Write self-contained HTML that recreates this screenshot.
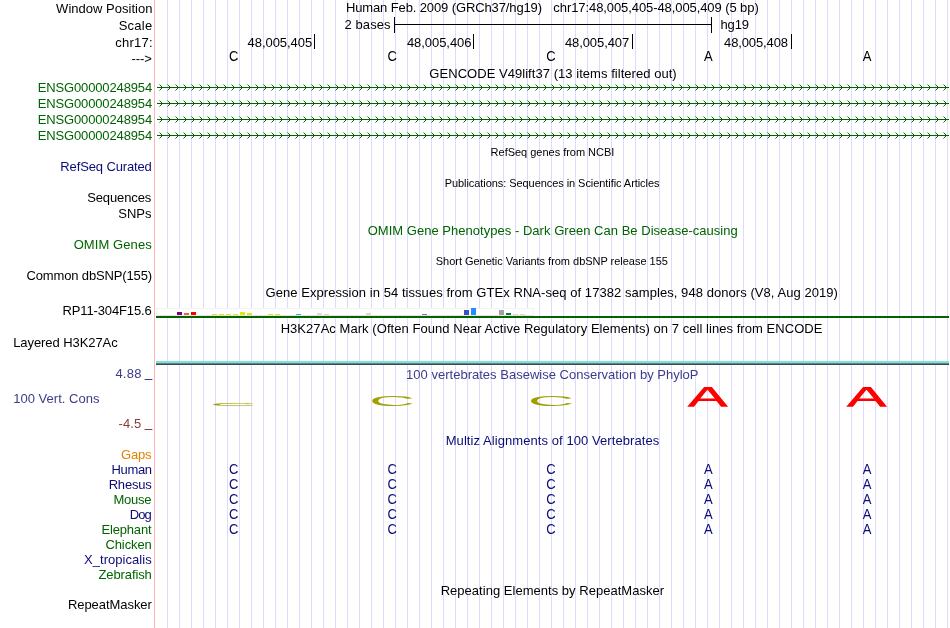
<!DOCTYPE html>
<html><head><meta charset="utf-8"><style>
html,body{margin:0;padding:0;background:#fff;width:950px;height:628px;overflow:hidden}
svg{display:block;will-change:transform}
</style></head><body>
<svg width="950" height="628" viewBox="0 0 950 628" font-family='"Liberation Sans", sans-serif'><rect x="167" y="0" width="1" height="628" fill="#dcdcff"/>
<rect x="179" y="0" width="1" height="628" fill="#dcdcff"/>
<rect x="191" y="0" width="1" height="628" fill="#dcdcff"/>
<rect x="203" y="0" width="1" height="628" fill="#dcdcff"/>
<rect x="215" y="0" width="1" height="628" fill="#dcdcff"/>
<rect x="227" y="0" width="1" height="628" fill="#dcdcff"/>
<rect x="239" y="0" width="1" height="628" fill="#dcdcff"/>
<rect x="251" y="0" width="1" height="628" fill="#dcdcff"/>
<rect x="263" y="0" width="1" height="628" fill="#dcdcff"/>
<rect x="275" y="0" width="1" height="628" fill="#dcdcff"/>
<rect x="287" y="0" width="1" height="628" fill="#dcdcff"/>
<rect x="299" y="0" width="1" height="628" fill="#dcdcff"/>
<rect x="311" y="0" width="1" height="628" fill="#dcdcff"/>
<rect x="323" y="0" width="1" height="628" fill="#dcdcff"/>
<rect x="335" y="0" width="1" height="628" fill="#dcdcff"/>
<rect x="347" y="0" width="1" height="628" fill="#dcdcff"/>
<rect x="359" y="0" width="1" height="628" fill="#dcdcff"/>
<rect x="371" y="0" width="1" height="628" fill="#dcdcff"/>
<rect x="383" y="0" width="1" height="628" fill="#dcdcff"/>
<rect x="395" y="0" width="1" height="628" fill="#dcdcff"/>
<rect x="407" y="0" width="1" height="628" fill="#dcdcff"/>
<rect x="419" y="0" width="1" height="628" fill="#dcdcff"/>
<rect x="431" y="0" width="1" height="628" fill="#dcdcff"/>
<rect x="443" y="0" width="1" height="628" fill="#dcdcff"/>
<rect x="455" y="0" width="1" height="628" fill="#dcdcff"/>
<rect x="467" y="0" width="1" height="628" fill="#dcdcff"/>
<rect x="479" y="0" width="1" height="628" fill="#dcdcff"/>
<rect x="491" y="0" width="1" height="628" fill="#dcdcff"/>
<rect x="503" y="0" width="1" height="628" fill="#dcdcff"/>
<rect x="515" y="0" width="1" height="628" fill="#dcdcff"/>
<rect x="527" y="0" width="1" height="628" fill="#dcdcff"/>
<rect x="539" y="0" width="1" height="628" fill="#dcdcff"/>
<rect x="551" y="0" width="1" height="628" fill="#dcdcff"/>
<rect x="563" y="0" width="1" height="628" fill="#dcdcff"/>
<rect x="575" y="0" width="1" height="628" fill="#dcdcff"/>
<rect x="587" y="0" width="1" height="628" fill="#dcdcff"/>
<rect x="599" y="0" width="1" height="628" fill="#dcdcff"/>
<rect x="611" y="0" width="1" height="628" fill="#dcdcff"/>
<rect x="623" y="0" width="1" height="628" fill="#dcdcff"/>
<rect x="635" y="0" width="1" height="628" fill="#dcdcff"/>
<rect x="647" y="0" width="1" height="628" fill="#dcdcff"/>
<rect x="659" y="0" width="1" height="628" fill="#dcdcff"/>
<rect x="671" y="0" width="1" height="628" fill="#dcdcff"/>
<rect x="683" y="0" width="1" height="628" fill="#dcdcff"/>
<rect x="695" y="0" width="1" height="628" fill="#dcdcff"/>
<rect x="707" y="0" width="1" height="628" fill="#dcdcff"/>
<rect x="719" y="0" width="1" height="628" fill="#dcdcff"/>
<rect x="731" y="0" width="1" height="628" fill="#dcdcff"/>
<rect x="743" y="0" width="1" height="628" fill="#dcdcff"/>
<rect x="755" y="0" width="1" height="628" fill="#dcdcff"/>
<rect x="767" y="0" width="1" height="628" fill="#dcdcff"/>
<rect x="779" y="0" width="1" height="628" fill="#dcdcff"/>
<rect x="791" y="0" width="1" height="628" fill="#dcdcff"/>
<rect x="803" y="0" width="1" height="628" fill="#dcdcff"/>
<rect x="815" y="0" width="1" height="628" fill="#dcdcff"/>
<rect x="827" y="0" width="1" height="628" fill="#dcdcff"/>
<rect x="839" y="0" width="1" height="628" fill="#dcdcff"/>
<rect x="851" y="0" width="1" height="628" fill="#dcdcff"/>
<rect x="863" y="0" width="1" height="628" fill="#dcdcff"/>
<rect x="875" y="0" width="1" height="628" fill="#dcdcff"/>
<rect x="887" y="0" width="1" height="628" fill="#dcdcff"/>
<rect x="899" y="0" width="1" height="628" fill="#dcdcff"/>
<rect x="911" y="0" width="1" height="628" fill="#dcdcff"/>
<rect x="923" y="0" width="1" height="628" fill="#dcdcff"/>
<rect x="935" y="0" width="1" height="628" fill="#dcdcff"/>
<rect x="947" y="0" width="1" height="628" fill="#dcdcff"/>
<rect x="154" y="0" width="1" height="628" fill="#ffb4b4"/>
<text transform="translate(56.10,13) scale(1,1.0)" font-size="13" fill="#000" id="win" textLength="96.30" lengthAdjust="spacing">Window Position</text>
<text transform="translate(118.65,30) scale(1,1.0)" font-size="13" fill="#000" id="scale" textLength="33.61" lengthAdjust="spacing">Scale</text>
<text transform="translate(115.37,47) scale(1,1.0)" font-size="13" fill="#000" id="chr" textLength="37.25" lengthAdjust="spacing">chr17:</text>
<text transform="translate(131.46,63) scale(1,1.0)" font-size="13" fill="#000" id="arrow" textLength="20.32" lengthAdjust="spacing">---&gt;</text>
<text transform="translate(37.63,92) scale(1,1.0)" font-size="13" fill="#006400" id="ensg0" textLength="114.57" lengthAdjust="spacing">ENSG00000248954</text>
<text transform="translate(37.63,108) scale(1,1.0)" font-size="13" fill="#006400" id="ensg1" textLength="114.57" lengthAdjust="spacing">ENSG00000248954</text>
<text transform="translate(37.63,124) scale(1,1.0)" font-size="13" fill="#006400" id="ensg2" textLength="114.57" lengthAdjust="spacing">ENSG00000248954</text>
<text transform="translate(37.63,140) scale(1,1.0)" font-size="13" fill="#006400" id="ensg3" textLength="114.57" lengthAdjust="spacing">ENSG00000248954</text>
<text transform="translate(60.37,171) scale(1,1.0)" font-size="13" fill="#0c0c78" id="refseq" textLength="91.46" lengthAdjust="spacing">RefSeq Curated</text>
<text transform="translate(87.14,202) scale(1,1.0)" font-size="13" fill="#000" id="seqs" textLength="64.15" lengthAdjust="spacing">Sequences</text>
<text transform="translate(118.34,218) scale(1,1.0)" font-size="13" fill="#000" id="snps" textLength="33.15" lengthAdjust="spacing">SNPs</text>
<text transform="translate(73.63,249) scale(1,1.0)" font-size="13" fill="#006400" id="omimL" textLength="78.13" lengthAdjust="spacing">OMIM Genes</text>
<text transform="translate(26.48,280) scale(1,1.0)" font-size="13" fill="#000" id="dbsnp" textLength="125.62" lengthAdjust="spacing">Common dbSNP(155)</text>
<text transform="translate(62.46,315) scale(1,1.0)" font-size="13" fill="#000" id="rp11" textLength="89.29" lengthAdjust="spacing">RP11-304F15.6</text>
<text transform="translate(13.17,347) scale(1,1.0)" font-size="13" fill="#000" id="layered" textLength="104.56" lengthAdjust="spacing">Layered H3K27Ac</text>
<text transform="translate(115.41,378) scale(1,1.0)" font-size="13" fill="#3c3c8c" id="c488" textLength="25.96" lengthAdjust="spacing">4.88</text>
<text transform="translate(13.16,403) scale(1,1.0)" font-size="13" fill="#3c3c8c" id="vert" textLength="86.37" lengthAdjust="spacing">100 Vert. Cons</text>
<text transform="translate(118.61,428) scale(1,1.0)" font-size="13" fill="#8c3c3c" id="c45" textLength="22.58" lengthAdjust="spacing">-4.5</text>
<text transform="translate(120.90,459) scale(1,1.0)" font-size="13" fill="#e18200" id="gaps" textLength="30.72" lengthAdjust="spacing">Gaps</text>
<text transform="translate(111.51,474) scale(1,1.0)" font-size="13" fill="#0c0c78" id="sp0" textLength="40.57" lengthAdjust="spacing">Human</text>
<text transform="translate(108.65,489) scale(1,1.0)" font-size="13" fill="#0c0c78" id="sp1" textLength="43.15" lengthAdjust="spacing">Rhesus</text>
<text transform="translate(113.44,504) scale(1,1.0)" font-size="13" fill="#006400" id="sp2" textLength="38.14" lengthAdjust="spacing">Mouse</text>
<text transform="translate(129.65,519) scale(1,1.0)" font-size="13" fill="#0c0c78" id="sp3" textLength="22.09" lengthAdjust="spacing">Dog</text>
<text transform="translate(101.44,534) scale(1,1.0)" font-size="13" fill="#006400" id="sp4" textLength="50.15" lengthAdjust="spacing">Elephant</text>
<text transform="translate(105.43,549) scale(1,1.0)" font-size="13" fill="#006400" id="sp5" textLength="46.38" lengthAdjust="spacing">Chicken</text>
<text transform="translate(84.11,564) scale(1,1.0)" font-size="13" fill="#0c0c78" id="sp6" textLength="67.56" lengthAdjust="spacing">X_tropicalis</text>
<text transform="translate(98.43,579) scale(1,1.0)" font-size="13" fill="#006400" id="sp7" textLength="53.40" lengthAdjust="spacing">Zebrafish</text>
<text transform="translate(67.89,609) scale(1,1.0)" font-size="13" fill="#000" id="rmL" textLength="83.98" lengthAdjust="spacing">RepeatMasker</text>
<text transform="translate(345.89,12) scale(1,1.0)" font-size="13" fill="#000" id="hfeb" textLength="196.19" lengthAdjust="spacing">Human Feb. 2009 (GRCh37/hg19)</text>
<text transform="translate(553.37,12) scale(1,1.0)" font-size="13" fill="#000" id="chrpos" textLength="205.39" lengthAdjust="spacing">chr17:48,005,405-48,005,409 (5 bp)</text>
<text transform="translate(344.62,29) scale(1,1.0)" font-size="13" fill="#000" id="bases2" textLength="45.90" lengthAdjust="spacing">2 bases</text>
<text transform="translate(720.42,29) scale(1,1.0)" font-size="13" fill="#000" id="hg19" textLength="28.61" lengthAdjust="spacing">hg19</text>
<text transform="translate(247.59,47) scale(1,1.0)" font-size="13" fill="#000" id="p405" textLength="64.62" lengthAdjust="spacing">48,005,405</text>
<text transform="translate(406.92,47) scale(1,1.0)" font-size="13" fill="#000" id="p406" textLength="64.55" lengthAdjust="spacing">48,005,406</text>
<text transform="translate(564.92,47) scale(1,1.0)" font-size="13" fill="#000" id="p407" textLength="64.30" lengthAdjust="spacing">48,005,407</text>
<text transform="translate(724.02,47) scale(1,1.0)" font-size="13" fill="#000" id="p408" textLength="64.05" lengthAdjust="spacing">48,005,408</text>
<text transform="translate(233.80,61) scale(1,1.07)" font-size="13" fill="#000" id="rb0" text-anchor="middle">C</text>
<text transform="translate(392.30,61) scale(1,1.07)" font-size="13" fill="#000" id="rb1" text-anchor="middle">C</text>
<text transform="translate(550.90,61) scale(1,1.07)" font-size="13" fill="#000" id="rb2" text-anchor="middle">C</text>
<text transform="translate(708.30,61) scale(1,1.07)" font-size="13" fill="#000" id="rb3" text-anchor="middle">A</text>
<text transform="translate(867.20,61) scale(1,1.07)" font-size="13" fill="#000" id="rb4" text-anchor="middle">A</text>
<text transform="translate(429.35,78) scale(1,1.0)" font-size="13" fill="#000" id="gencode" textLength="247.35" lengthAdjust="spacing">GENCODE V49lift37 (13 items filtered out)</text>
<text transform="translate(490.62,156) scale(1,1.0)" font-size="11" fill="#000" id="refgenes" textLength="123.75" lengthAdjust="spacing">RefSeq genes from NCBI</text>
<text transform="translate(444.71,187) scale(1,1.0)" font-size="11" fill="#000" id="pubs" textLength="214.77" lengthAdjust="spacing">Publications: Sequences in Scientific Articles</text>
<text transform="translate(367.63,235) scale(1,1.0)" font-size="13" fill="#006400" id="omimT" textLength="370.11" lengthAdjust="spacing">OMIM Gene Phenotypes - Dark Green Can Be Disease-causing</text>
<text transform="translate(435.76,265) scale(1,1.0)" font-size="11" fill="#000" id="snpT" textLength="232.12" lengthAdjust="spacing">Short Genetic Variants from dbSNP release 155</text>
<text transform="translate(265.54,297) scale(1,1.0)" font-size="13" fill="#000" id="gtex" textLength="572.33" lengthAdjust="spacing">Gene Expression in 54 tissues from GTEx RNA-seq of 17382 samples, 948 donors (V8, Aug 2019)</text>
<text transform="translate(280.66,333) scale(1,1.0)" font-size="13" fill="#000" id="h3k" textLength="541.78" lengthAdjust="spacing">H3K27Ac Mark (Often Found Near Active Regulatory Elements) on 7 cell lines from ENCODE</text>
<text transform="translate(406.11,379) scale(1,1.0)" font-size="13" fill="#3c3c8c" id="phylo" textLength="292.40" lengthAdjust="spacing">100 vertebrates Basewise Conservation by PhyloP</text>
<text transform="translate(445.71,445) scale(1,1.0)" font-size="13" fill="#0c0c78" id="multiz" textLength="213.54" lengthAdjust="spacing">Multiz Alignments of 100 Vertebrates</text>
<text transform="translate(440.66,595) scale(1,1.0)" font-size="13" fill="#000" id="rmT" textLength="223.40" lengthAdjust="spacing">Repeating Elements by RepeatMasker</text>
<rect x="144.6" y="379" width="7.8" height="1" fill="#3c3c8c"/>
<rect x="144.6" y="429" width="7.8" height="1" fill="#8c3c3c"/>
<rect x="394" y="17" width="1" height="16" fill="#000"/>
<rect x="711" y="17" width="1" height="16" fill="#000"/>
<rect x="394" y="24" width="318" height="1" fill="#000"/>
<rect x="314" y="34" width="1" height="15" fill="#000"/>
<rect x="473" y="34" width="1" height="15" fill="#000"/>
<rect x="632" y="34" width="1" height="15" fill="#000"/>
<rect x="791" y="34" width="1" height="15" fill="#000"/>
<rect x="157" y="87" width="792" height="1" fill="#006400"/>
<path d="M161,86h1v3h-1zM160,85h1v1h-1zM160,89h1v1h-1zM169,86h1v3h-1zM168,85h1v1h-1zM168,89h1v1h-1zM177,86h1v3h-1zM176,85h1v1h-1zM176,89h1v1h-1zM185,86h1v3h-1zM184,85h1v1h-1zM184,89h1v1h-1zM193,86h1v3h-1zM192,85h1v1h-1zM192,89h1v1h-1zM201,86h1v3h-1zM200,85h1v1h-1zM200,89h1v1h-1zM209,86h1v3h-1zM208,85h1v1h-1zM208,89h1v1h-1zM217,86h1v3h-1zM216,85h1v1h-1zM216,89h1v1h-1zM225,86h1v3h-1zM224,85h1v1h-1zM224,89h1v1h-1zM233,86h1v3h-1zM232,85h1v1h-1zM232,89h1v1h-1zM241,86h1v3h-1zM240,85h1v1h-1zM240,89h1v1h-1zM249,86h1v3h-1zM248,85h1v1h-1zM248,89h1v1h-1zM257,86h1v3h-1zM256,85h1v1h-1zM256,89h1v1h-1zM265,86h1v3h-1zM264,85h1v1h-1zM264,89h1v1h-1zM273,86h1v3h-1zM272,85h1v1h-1zM272,89h1v1h-1zM281,86h1v3h-1zM280,85h1v1h-1zM280,89h1v1h-1zM289,86h1v3h-1zM288,85h1v1h-1zM288,89h1v1h-1zM297,86h1v3h-1zM296,85h1v1h-1zM296,89h1v1h-1zM305,86h1v3h-1zM304,85h1v1h-1zM304,89h1v1h-1zM313,86h1v3h-1zM312,85h1v1h-1zM312,89h1v1h-1zM321,86h1v3h-1zM320,85h1v1h-1zM320,89h1v1h-1zM329,86h1v3h-1zM328,85h1v1h-1zM328,89h1v1h-1zM337,86h1v3h-1zM336,85h1v1h-1zM336,89h1v1h-1zM345,86h1v3h-1zM344,85h1v1h-1zM344,89h1v1h-1zM353,86h1v3h-1zM352,85h1v1h-1zM352,89h1v1h-1zM361,86h1v3h-1zM360,85h1v1h-1zM360,89h1v1h-1zM369,86h1v3h-1zM368,85h1v1h-1zM368,89h1v1h-1zM377,86h1v3h-1zM376,85h1v1h-1zM376,89h1v1h-1zM385,86h1v3h-1zM384,85h1v1h-1zM384,89h1v1h-1zM393,86h1v3h-1zM392,85h1v1h-1zM392,89h1v1h-1zM401,86h1v3h-1zM400,85h1v1h-1zM400,89h1v1h-1zM409,86h1v3h-1zM408,85h1v1h-1zM408,89h1v1h-1zM417,86h1v3h-1zM416,85h1v1h-1zM416,89h1v1h-1zM425,86h1v3h-1zM424,85h1v1h-1zM424,89h1v1h-1zM433,86h1v3h-1zM432,85h1v1h-1zM432,89h1v1h-1zM441,86h1v3h-1zM440,85h1v1h-1zM440,89h1v1h-1zM449,86h1v3h-1zM448,85h1v1h-1zM448,89h1v1h-1zM457,86h1v3h-1zM456,85h1v1h-1zM456,89h1v1h-1zM465,86h1v3h-1zM464,85h1v1h-1zM464,89h1v1h-1zM473,86h1v3h-1zM472,85h1v1h-1zM472,89h1v1h-1zM481,86h1v3h-1zM480,85h1v1h-1zM480,89h1v1h-1zM489,86h1v3h-1zM488,85h1v1h-1zM488,89h1v1h-1zM497,86h1v3h-1zM496,85h1v1h-1zM496,89h1v1h-1zM505,86h1v3h-1zM504,85h1v1h-1zM504,89h1v1h-1zM513,86h1v3h-1zM512,85h1v1h-1zM512,89h1v1h-1zM521,86h1v3h-1zM520,85h1v1h-1zM520,89h1v1h-1zM529,86h1v3h-1zM528,85h1v1h-1zM528,89h1v1h-1zM537,86h1v3h-1zM536,85h1v1h-1zM536,89h1v1h-1zM545,86h1v3h-1zM544,85h1v1h-1zM544,89h1v1h-1zM553,86h1v3h-1zM552,85h1v1h-1zM552,89h1v1h-1zM561,86h1v3h-1zM560,85h1v1h-1zM560,89h1v1h-1zM569,86h1v3h-1zM568,85h1v1h-1zM568,89h1v1h-1zM577,86h1v3h-1zM576,85h1v1h-1zM576,89h1v1h-1zM585,86h1v3h-1zM584,85h1v1h-1zM584,89h1v1h-1zM593,86h1v3h-1zM592,85h1v1h-1zM592,89h1v1h-1zM601,86h1v3h-1zM600,85h1v1h-1zM600,89h1v1h-1zM609,86h1v3h-1zM608,85h1v1h-1zM608,89h1v1h-1zM617,86h1v3h-1zM616,85h1v1h-1zM616,89h1v1h-1zM625,86h1v3h-1zM624,85h1v1h-1zM624,89h1v1h-1zM633,86h1v3h-1zM632,85h1v1h-1zM632,89h1v1h-1zM641,86h1v3h-1zM640,85h1v1h-1zM640,89h1v1h-1zM649,86h1v3h-1zM648,85h1v1h-1zM648,89h1v1h-1zM657,86h1v3h-1zM656,85h1v1h-1zM656,89h1v1h-1zM665,86h1v3h-1zM664,85h1v1h-1zM664,89h1v1h-1zM673,86h1v3h-1zM672,85h1v1h-1zM672,89h1v1h-1zM681,86h1v3h-1zM680,85h1v1h-1zM680,89h1v1h-1zM689,86h1v3h-1zM688,85h1v1h-1zM688,89h1v1h-1zM697,86h1v3h-1zM696,85h1v1h-1zM696,89h1v1h-1zM705,86h1v3h-1zM704,85h1v1h-1zM704,89h1v1h-1zM713,86h1v3h-1zM712,85h1v1h-1zM712,89h1v1h-1zM721,86h1v3h-1zM720,85h1v1h-1zM720,89h1v1h-1zM729,86h1v3h-1zM728,85h1v1h-1zM728,89h1v1h-1zM737,86h1v3h-1zM736,85h1v1h-1zM736,89h1v1h-1zM745,86h1v3h-1zM744,85h1v1h-1zM744,89h1v1h-1zM753,86h1v3h-1zM752,85h1v1h-1zM752,89h1v1h-1zM761,86h1v3h-1zM760,85h1v1h-1zM760,89h1v1h-1zM769,86h1v3h-1zM768,85h1v1h-1zM768,89h1v1h-1zM777,86h1v3h-1zM776,85h1v1h-1zM776,89h1v1h-1zM785,86h1v3h-1zM784,85h1v1h-1zM784,89h1v1h-1zM793,86h1v3h-1zM792,85h1v1h-1zM792,89h1v1h-1zM801,86h1v3h-1zM800,85h1v1h-1zM800,89h1v1h-1zM809,86h1v3h-1zM808,85h1v1h-1zM808,89h1v1h-1zM817,86h1v3h-1zM816,85h1v1h-1zM816,89h1v1h-1zM825,86h1v3h-1zM824,85h1v1h-1zM824,89h1v1h-1zM833,86h1v3h-1zM832,85h1v1h-1zM832,89h1v1h-1zM841,86h1v3h-1zM840,85h1v1h-1zM840,89h1v1h-1zM849,86h1v3h-1zM848,85h1v1h-1zM848,89h1v1h-1zM857,86h1v3h-1zM856,85h1v1h-1zM856,89h1v1h-1zM865,86h1v3h-1zM864,85h1v1h-1zM864,89h1v1h-1zM873,86h1v3h-1zM872,85h1v1h-1zM872,89h1v1h-1zM881,86h1v3h-1zM880,85h1v1h-1zM880,89h1v1h-1zM889,86h1v3h-1zM888,85h1v1h-1zM888,89h1v1h-1zM897,86h1v3h-1zM896,85h1v1h-1zM896,89h1v1h-1zM905,86h1v3h-1zM904,85h1v1h-1zM904,89h1v1h-1zM913,86h1v3h-1zM912,85h1v1h-1zM912,89h1v1h-1zM921,86h1v3h-1zM920,85h1v1h-1zM920,89h1v1h-1zM929,86h1v3h-1zM928,85h1v1h-1zM928,89h1v1h-1zM937,86h1v3h-1zM936,85h1v1h-1zM936,89h1v1h-1zM945,86h1v3h-1zM944,85h1v1h-1zM944,89h1v1h-1z" fill="#006400"/>
<path d="M159,84h1v1h-1zM159,90h1v1h-1zM167,84h1v1h-1zM167,90h1v1h-1zM175,84h1v1h-1zM175,90h1v1h-1zM183,84h1v1h-1zM183,90h1v1h-1zM191,84h1v1h-1zM191,90h1v1h-1zM199,84h1v1h-1zM199,90h1v1h-1zM207,84h1v1h-1zM207,90h1v1h-1zM215,84h1v1h-1zM215,90h1v1h-1zM223,84h1v1h-1zM223,90h1v1h-1zM231,84h1v1h-1zM231,90h1v1h-1zM239,84h1v1h-1zM239,90h1v1h-1zM247,84h1v1h-1zM247,90h1v1h-1zM255,84h1v1h-1zM255,90h1v1h-1zM263,84h1v1h-1zM263,90h1v1h-1zM271,84h1v1h-1zM271,90h1v1h-1zM279,84h1v1h-1zM279,90h1v1h-1zM287,84h1v1h-1zM287,90h1v1h-1zM295,84h1v1h-1zM295,90h1v1h-1zM303,84h1v1h-1zM303,90h1v1h-1zM311,84h1v1h-1zM311,90h1v1h-1zM319,84h1v1h-1zM319,90h1v1h-1zM327,84h1v1h-1zM327,90h1v1h-1zM335,84h1v1h-1zM335,90h1v1h-1zM343,84h1v1h-1zM343,90h1v1h-1zM351,84h1v1h-1zM351,90h1v1h-1zM359,84h1v1h-1zM359,90h1v1h-1zM367,84h1v1h-1zM367,90h1v1h-1zM375,84h1v1h-1zM375,90h1v1h-1zM383,84h1v1h-1zM383,90h1v1h-1zM391,84h1v1h-1zM391,90h1v1h-1zM399,84h1v1h-1zM399,90h1v1h-1zM407,84h1v1h-1zM407,90h1v1h-1zM415,84h1v1h-1zM415,90h1v1h-1zM423,84h1v1h-1zM423,90h1v1h-1zM431,84h1v1h-1zM431,90h1v1h-1zM439,84h1v1h-1zM439,90h1v1h-1zM447,84h1v1h-1zM447,90h1v1h-1zM455,84h1v1h-1zM455,90h1v1h-1zM463,84h1v1h-1zM463,90h1v1h-1zM471,84h1v1h-1zM471,90h1v1h-1zM479,84h1v1h-1zM479,90h1v1h-1zM487,84h1v1h-1zM487,90h1v1h-1zM495,84h1v1h-1zM495,90h1v1h-1zM503,84h1v1h-1zM503,90h1v1h-1zM511,84h1v1h-1zM511,90h1v1h-1zM519,84h1v1h-1zM519,90h1v1h-1zM527,84h1v1h-1zM527,90h1v1h-1zM535,84h1v1h-1zM535,90h1v1h-1zM543,84h1v1h-1zM543,90h1v1h-1zM551,84h1v1h-1zM551,90h1v1h-1zM559,84h1v1h-1zM559,90h1v1h-1zM567,84h1v1h-1zM567,90h1v1h-1zM575,84h1v1h-1zM575,90h1v1h-1zM583,84h1v1h-1zM583,90h1v1h-1zM591,84h1v1h-1zM591,90h1v1h-1zM599,84h1v1h-1zM599,90h1v1h-1zM607,84h1v1h-1zM607,90h1v1h-1zM615,84h1v1h-1zM615,90h1v1h-1zM623,84h1v1h-1zM623,90h1v1h-1zM631,84h1v1h-1zM631,90h1v1h-1zM639,84h1v1h-1zM639,90h1v1h-1zM647,84h1v1h-1zM647,90h1v1h-1zM655,84h1v1h-1zM655,90h1v1h-1zM663,84h1v1h-1zM663,90h1v1h-1zM671,84h1v1h-1zM671,90h1v1h-1zM679,84h1v1h-1zM679,90h1v1h-1zM687,84h1v1h-1zM687,90h1v1h-1zM695,84h1v1h-1zM695,90h1v1h-1zM703,84h1v1h-1zM703,90h1v1h-1zM711,84h1v1h-1zM711,90h1v1h-1zM719,84h1v1h-1zM719,90h1v1h-1zM727,84h1v1h-1zM727,90h1v1h-1zM735,84h1v1h-1zM735,90h1v1h-1zM743,84h1v1h-1zM743,90h1v1h-1zM751,84h1v1h-1zM751,90h1v1h-1zM759,84h1v1h-1zM759,90h1v1h-1zM767,84h1v1h-1zM767,90h1v1h-1zM775,84h1v1h-1zM775,90h1v1h-1zM783,84h1v1h-1zM783,90h1v1h-1zM791,84h1v1h-1zM791,90h1v1h-1zM799,84h1v1h-1zM799,90h1v1h-1zM807,84h1v1h-1zM807,90h1v1h-1zM815,84h1v1h-1zM815,90h1v1h-1zM823,84h1v1h-1zM823,90h1v1h-1zM831,84h1v1h-1zM831,90h1v1h-1zM839,84h1v1h-1zM839,90h1v1h-1zM847,84h1v1h-1zM847,90h1v1h-1zM855,84h1v1h-1zM855,90h1v1h-1zM863,84h1v1h-1zM863,90h1v1h-1zM871,84h1v1h-1zM871,90h1v1h-1zM879,84h1v1h-1zM879,90h1v1h-1zM887,84h1v1h-1zM887,90h1v1h-1zM895,84h1v1h-1zM895,90h1v1h-1zM903,84h1v1h-1zM903,90h1v1h-1zM911,84h1v1h-1zM911,90h1v1h-1zM919,84h1v1h-1zM919,90h1v1h-1zM927,84h1v1h-1zM927,90h1v1h-1zM935,84h1v1h-1zM935,90h1v1h-1zM943,84h1v1h-1zM943,90h1v1h-1z" fill="#006400" fill-opacity="0.45"/>
<rect x="157" y="103" width="792" height="1" fill="#006400"/>
<path d="M161,102h1v3h-1zM160,101h1v1h-1zM160,105h1v1h-1zM169,102h1v3h-1zM168,101h1v1h-1zM168,105h1v1h-1zM177,102h1v3h-1zM176,101h1v1h-1zM176,105h1v1h-1zM185,102h1v3h-1zM184,101h1v1h-1zM184,105h1v1h-1zM193,102h1v3h-1zM192,101h1v1h-1zM192,105h1v1h-1zM201,102h1v3h-1zM200,101h1v1h-1zM200,105h1v1h-1zM209,102h1v3h-1zM208,101h1v1h-1zM208,105h1v1h-1zM217,102h1v3h-1zM216,101h1v1h-1zM216,105h1v1h-1zM225,102h1v3h-1zM224,101h1v1h-1zM224,105h1v1h-1zM233,102h1v3h-1zM232,101h1v1h-1zM232,105h1v1h-1zM241,102h1v3h-1zM240,101h1v1h-1zM240,105h1v1h-1zM249,102h1v3h-1zM248,101h1v1h-1zM248,105h1v1h-1zM257,102h1v3h-1zM256,101h1v1h-1zM256,105h1v1h-1zM265,102h1v3h-1zM264,101h1v1h-1zM264,105h1v1h-1zM273,102h1v3h-1zM272,101h1v1h-1zM272,105h1v1h-1zM281,102h1v3h-1zM280,101h1v1h-1zM280,105h1v1h-1zM289,102h1v3h-1zM288,101h1v1h-1zM288,105h1v1h-1zM297,102h1v3h-1zM296,101h1v1h-1zM296,105h1v1h-1zM305,102h1v3h-1zM304,101h1v1h-1zM304,105h1v1h-1zM313,102h1v3h-1zM312,101h1v1h-1zM312,105h1v1h-1zM321,102h1v3h-1zM320,101h1v1h-1zM320,105h1v1h-1zM329,102h1v3h-1zM328,101h1v1h-1zM328,105h1v1h-1zM337,102h1v3h-1zM336,101h1v1h-1zM336,105h1v1h-1zM345,102h1v3h-1zM344,101h1v1h-1zM344,105h1v1h-1zM353,102h1v3h-1zM352,101h1v1h-1zM352,105h1v1h-1zM361,102h1v3h-1zM360,101h1v1h-1zM360,105h1v1h-1zM369,102h1v3h-1zM368,101h1v1h-1zM368,105h1v1h-1zM377,102h1v3h-1zM376,101h1v1h-1zM376,105h1v1h-1zM385,102h1v3h-1zM384,101h1v1h-1zM384,105h1v1h-1zM393,102h1v3h-1zM392,101h1v1h-1zM392,105h1v1h-1zM401,102h1v3h-1zM400,101h1v1h-1zM400,105h1v1h-1zM409,102h1v3h-1zM408,101h1v1h-1zM408,105h1v1h-1zM417,102h1v3h-1zM416,101h1v1h-1zM416,105h1v1h-1zM425,102h1v3h-1zM424,101h1v1h-1zM424,105h1v1h-1zM433,102h1v3h-1zM432,101h1v1h-1zM432,105h1v1h-1zM441,102h1v3h-1zM440,101h1v1h-1zM440,105h1v1h-1zM449,102h1v3h-1zM448,101h1v1h-1zM448,105h1v1h-1zM457,102h1v3h-1zM456,101h1v1h-1zM456,105h1v1h-1zM465,102h1v3h-1zM464,101h1v1h-1zM464,105h1v1h-1zM473,102h1v3h-1zM472,101h1v1h-1zM472,105h1v1h-1zM481,102h1v3h-1zM480,101h1v1h-1zM480,105h1v1h-1zM489,102h1v3h-1zM488,101h1v1h-1zM488,105h1v1h-1zM497,102h1v3h-1zM496,101h1v1h-1zM496,105h1v1h-1zM505,102h1v3h-1zM504,101h1v1h-1zM504,105h1v1h-1zM513,102h1v3h-1zM512,101h1v1h-1zM512,105h1v1h-1zM521,102h1v3h-1zM520,101h1v1h-1zM520,105h1v1h-1zM529,102h1v3h-1zM528,101h1v1h-1zM528,105h1v1h-1zM537,102h1v3h-1zM536,101h1v1h-1zM536,105h1v1h-1zM545,102h1v3h-1zM544,101h1v1h-1zM544,105h1v1h-1zM553,102h1v3h-1zM552,101h1v1h-1zM552,105h1v1h-1zM561,102h1v3h-1zM560,101h1v1h-1zM560,105h1v1h-1zM569,102h1v3h-1zM568,101h1v1h-1zM568,105h1v1h-1zM577,102h1v3h-1zM576,101h1v1h-1zM576,105h1v1h-1zM585,102h1v3h-1zM584,101h1v1h-1zM584,105h1v1h-1zM593,102h1v3h-1zM592,101h1v1h-1zM592,105h1v1h-1zM601,102h1v3h-1zM600,101h1v1h-1zM600,105h1v1h-1zM609,102h1v3h-1zM608,101h1v1h-1zM608,105h1v1h-1zM617,102h1v3h-1zM616,101h1v1h-1zM616,105h1v1h-1zM625,102h1v3h-1zM624,101h1v1h-1zM624,105h1v1h-1zM633,102h1v3h-1zM632,101h1v1h-1zM632,105h1v1h-1zM641,102h1v3h-1zM640,101h1v1h-1zM640,105h1v1h-1zM649,102h1v3h-1zM648,101h1v1h-1zM648,105h1v1h-1zM657,102h1v3h-1zM656,101h1v1h-1zM656,105h1v1h-1zM665,102h1v3h-1zM664,101h1v1h-1zM664,105h1v1h-1zM673,102h1v3h-1zM672,101h1v1h-1zM672,105h1v1h-1zM681,102h1v3h-1zM680,101h1v1h-1zM680,105h1v1h-1zM689,102h1v3h-1zM688,101h1v1h-1zM688,105h1v1h-1zM697,102h1v3h-1zM696,101h1v1h-1zM696,105h1v1h-1zM705,102h1v3h-1zM704,101h1v1h-1zM704,105h1v1h-1zM713,102h1v3h-1zM712,101h1v1h-1zM712,105h1v1h-1zM721,102h1v3h-1zM720,101h1v1h-1zM720,105h1v1h-1zM729,102h1v3h-1zM728,101h1v1h-1zM728,105h1v1h-1zM737,102h1v3h-1zM736,101h1v1h-1zM736,105h1v1h-1zM745,102h1v3h-1zM744,101h1v1h-1zM744,105h1v1h-1zM753,102h1v3h-1zM752,101h1v1h-1zM752,105h1v1h-1zM761,102h1v3h-1zM760,101h1v1h-1zM760,105h1v1h-1zM769,102h1v3h-1zM768,101h1v1h-1zM768,105h1v1h-1zM777,102h1v3h-1zM776,101h1v1h-1zM776,105h1v1h-1zM785,102h1v3h-1zM784,101h1v1h-1zM784,105h1v1h-1zM793,102h1v3h-1zM792,101h1v1h-1zM792,105h1v1h-1zM801,102h1v3h-1zM800,101h1v1h-1zM800,105h1v1h-1zM809,102h1v3h-1zM808,101h1v1h-1zM808,105h1v1h-1zM817,102h1v3h-1zM816,101h1v1h-1zM816,105h1v1h-1zM825,102h1v3h-1zM824,101h1v1h-1zM824,105h1v1h-1zM833,102h1v3h-1zM832,101h1v1h-1zM832,105h1v1h-1zM841,102h1v3h-1zM840,101h1v1h-1zM840,105h1v1h-1zM849,102h1v3h-1zM848,101h1v1h-1zM848,105h1v1h-1zM857,102h1v3h-1zM856,101h1v1h-1zM856,105h1v1h-1zM865,102h1v3h-1zM864,101h1v1h-1zM864,105h1v1h-1zM873,102h1v3h-1zM872,101h1v1h-1zM872,105h1v1h-1zM881,102h1v3h-1zM880,101h1v1h-1zM880,105h1v1h-1zM889,102h1v3h-1zM888,101h1v1h-1zM888,105h1v1h-1zM897,102h1v3h-1zM896,101h1v1h-1zM896,105h1v1h-1zM905,102h1v3h-1zM904,101h1v1h-1zM904,105h1v1h-1zM913,102h1v3h-1zM912,101h1v1h-1zM912,105h1v1h-1zM921,102h1v3h-1zM920,101h1v1h-1zM920,105h1v1h-1zM929,102h1v3h-1zM928,101h1v1h-1zM928,105h1v1h-1zM937,102h1v3h-1zM936,101h1v1h-1zM936,105h1v1h-1zM945,102h1v3h-1zM944,101h1v1h-1zM944,105h1v1h-1z" fill="#006400"/>
<path d="M159,100h1v1h-1zM159,106h1v1h-1zM167,100h1v1h-1zM167,106h1v1h-1zM175,100h1v1h-1zM175,106h1v1h-1zM183,100h1v1h-1zM183,106h1v1h-1zM191,100h1v1h-1zM191,106h1v1h-1zM199,100h1v1h-1zM199,106h1v1h-1zM207,100h1v1h-1zM207,106h1v1h-1zM215,100h1v1h-1zM215,106h1v1h-1zM223,100h1v1h-1zM223,106h1v1h-1zM231,100h1v1h-1zM231,106h1v1h-1zM239,100h1v1h-1zM239,106h1v1h-1zM247,100h1v1h-1zM247,106h1v1h-1zM255,100h1v1h-1zM255,106h1v1h-1zM263,100h1v1h-1zM263,106h1v1h-1zM271,100h1v1h-1zM271,106h1v1h-1zM279,100h1v1h-1zM279,106h1v1h-1zM287,100h1v1h-1zM287,106h1v1h-1zM295,100h1v1h-1zM295,106h1v1h-1zM303,100h1v1h-1zM303,106h1v1h-1zM311,100h1v1h-1zM311,106h1v1h-1zM319,100h1v1h-1zM319,106h1v1h-1zM327,100h1v1h-1zM327,106h1v1h-1zM335,100h1v1h-1zM335,106h1v1h-1zM343,100h1v1h-1zM343,106h1v1h-1zM351,100h1v1h-1zM351,106h1v1h-1zM359,100h1v1h-1zM359,106h1v1h-1zM367,100h1v1h-1zM367,106h1v1h-1zM375,100h1v1h-1zM375,106h1v1h-1zM383,100h1v1h-1zM383,106h1v1h-1zM391,100h1v1h-1zM391,106h1v1h-1zM399,100h1v1h-1zM399,106h1v1h-1zM407,100h1v1h-1zM407,106h1v1h-1zM415,100h1v1h-1zM415,106h1v1h-1zM423,100h1v1h-1zM423,106h1v1h-1zM431,100h1v1h-1zM431,106h1v1h-1zM439,100h1v1h-1zM439,106h1v1h-1zM447,100h1v1h-1zM447,106h1v1h-1zM455,100h1v1h-1zM455,106h1v1h-1zM463,100h1v1h-1zM463,106h1v1h-1zM471,100h1v1h-1zM471,106h1v1h-1zM479,100h1v1h-1zM479,106h1v1h-1zM487,100h1v1h-1zM487,106h1v1h-1zM495,100h1v1h-1zM495,106h1v1h-1zM503,100h1v1h-1zM503,106h1v1h-1zM511,100h1v1h-1zM511,106h1v1h-1zM519,100h1v1h-1zM519,106h1v1h-1zM527,100h1v1h-1zM527,106h1v1h-1zM535,100h1v1h-1zM535,106h1v1h-1zM543,100h1v1h-1zM543,106h1v1h-1zM551,100h1v1h-1zM551,106h1v1h-1zM559,100h1v1h-1zM559,106h1v1h-1zM567,100h1v1h-1zM567,106h1v1h-1zM575,100h1v1h-1zM575,106h1v1h-1zM583,100h1v1h-1zM583,106h1v1h-1zM591,100h1v1h-1zM591,106h1v1h-1zM599,100h1v1h-1zM599,106h1v1h-1zM607,100h1v1h-1zM607,106h1v1h-1zM615,100h1v1h-1zM615,106h1v1h-1zM623,100h1v1h-1zM623,106h1v1h-1zM631,100h1v1h-1zM631,106h1v1h-1zM639,100h1v1h-1zM639,106h1v1h-1zM647,100h1v1h-1zM647,106h1v1h-1zM655,100h1v1h-1zM655,106h1v1h-1zM663,100h1v1h-1zM663,106h1v1h-1zM671,100h1v1h-1zM671,106h1v1h-1zM679,100h1v1h-1zM679,106h1v1h-1zM687,100h1v1h-1zM687,106h1v1h-1zM695,100h1v1h-1zM695,106h1v1h-1zM703,100h1v1h-1zM703,106h1v1h-1zM711,100h1v1h-1zM711,106h1v1h-1zM719,100h1v1h-1zM719,106h1v1h-1zM727,100h1v1h-1zM727,106h1v1h-1zM735,100h1v1h-1zM735,106h1v1h-1zM743,100h1v1h-1zM743,106h1v1h-1zM751,100h1v1h-1zM751,106h1v1h-1zM759,100h1v1h-1zM759,106h1v1h-1zM767,100h1v1h-1zM767,106h1v1h-1zM775,100h1v1h-1zM775,106h1v1h-1zM783,100h1v1h-1zM783,106h1v1h-1zM791,100h1v1h-1zM791,106h1v1h-1zM799,100h1v1h-1zM799,106h1v1h-1zM807,100h1v1h-1zM807,106h1v1h-1zM815,100h1v1h-1zM815,106h1v1h-1zM823,100h1v1h-1zM823,106h1v1h-1zM831,100h1v1h-1zM831,106h1v1h-1zM839,100h1v1h-1zM839,106h1v1h-1zM847,100h1v1h-1zM847,106h1v1h-1zM855,100h1v1h-1zM855,106h1v1h-1zM863,100h1v1h-1zM863,106h1v1h-1zM871,100h1v1h-1zM871,106h1v1h-1zM879,100h1v1h-1zM879,106h1v1h-1zM887,100h1v1h-1zM887,106h1v1h-1zM895,100h1v1h-1zM895,106h1v1h-1zM903,100h1v1h-1zM903,106h1v1h-1zM911,100h1v1h-1zM911,106h1v1h-1zM919,100h1v1h-1zM919,106h1v1h-1zM927,100h1v1h-1zM927,106h1v1h-1zM935,100h1v1h-1zM935,106h1v1h-1zM943,100h1v1h-1zM943,106h1v1h-1z" fill="#006400" fill-opacity="0.45"/>
<rect x="157" y="119" width="792" height="1" fill="#006400"/>
<path d="M161,118h1v3h-1zM160,117h1v1h-1zM160,121h1v1h-1zM169,118h1v3h-1zM168,117h1v1h-1zM168,121h1v1h-1zM177,118h1v3h-1zM176,117h1v1h-1zM176,121h1v1h-1zM185,118h1v3h-1zM184,117h1v1h-1zM184,121h1v1h-1zM193,118h1v3h-1zM192,117h1v1h-1zM192,121h1v1h-1zM201,118h1v3h-1zM200,117h1v1h-1zM200,121h1v1h-1zM209,118h1v3h-1zM208,117h1v1h-1zM208,121h1v1h-1zM217,118h1v3h-1zM216,117h1v1h-1zM216,121h1v1h-1zM225,118h1v3h-1zM224,117h1v1h-1zM224,121h1v1h-1zM233,118h1v3h-1zM232,117h1v1h-1zM232,121h1v1h-1zM241,118h1v3h-1zM240,117h1v1h-1zM240,121h1v1h-1zM249,118h1v3h-1zM248,117h1v1h-1zM248,121h1v1h-1zM257,118h1v3h-1zM256,117h1v1h-1zM256,121h1v1h-1zM265,118h1v3h-1zM264,117h1v1h-1zM264,121h1v1h-1zM273,118h1v3h-1zM272,117h1v1h-1zM272,121h1v1h-1zM281,118h1v3h-1zM280,117h1v1h-1zM280,121h1v1h-1zM289,118h1v3h-1zM288,117h1v1h-1zM288,121h1v1h-1zM297,118h1v3h-1zM296,117h1v1h-1zM296,121h1v1h-1zM305,118h1v3h-1zM304,117h1v1h-1zM304,121h1v1h-1zM313,118h1v3h-1zM312,117h1v1h-1zM312,121h1v1h-1zM321,118h1v3h-1zM320,117h1v1h-1zM320,121h1v1h-1zM329,118h1v3h-1zM328,117h1v1h-1zM328,121h1v1h-1zM337,118h1v3h-1zM336,117h1v1h-1zM336,121h1v1h-1zM345,118h1v3h-1zM344,117h1v1h-1zM344,121h1v1h-1zM353,118h1v3h-1zM352,117h1v1h-1zM352,121h1v1h-1zM361,118h1v3h-1zM360,117h1v1h-1zM360,121h1v1h-1zM369,118h1v3h-1zM368,117h1v1h-1zM368,121h1v1h-1zM377,118h1v3h-1zM376,117h1v1h-1zM376,121h1v1h-1zM385,118h1v3h-1zM384,117h1v1h-1zM384,121h1v1h-1zM393,118h1v3h-1zM392,117h1v1h-1zM392,121h1v1h-1zM401,118h1v3h-1zM400,117h1v1h-1zM400,121h1v1h-1zM409,118h1v3h-1zM408,117h1v1h-1zM408,121h1v1h-1zM417,118h1v3h-1zM416,117h1v1h-1zM416,121h1v1h-1zM425,118h1v3h-1zM424,117h1v1h-1zM424,121h1v1h-1zM433,118h1v3h-1zM432,117h1v1h-1zM432,121h1v1h-1zM441,118h1v3h-1zM440,117h1v1h-1zM440,121h1v1h-1zM449,118h1v3h-1zM448,117h1v1h-1zM448,121h1v1h-1zM457,118h1v3h-1zM456,117h1v1h-1zM456,121h1v1h-1zM465,118h1v3h-1zM464,117h1v1h-1zM464,121h1v1h-1zM473,118h1v3h-1zM472,117h1v1h-1zM472,121h1v1h-1zM481,118h1v3h-1zM480,117h1v1h-1zM480,121h1v1h-1zM489,118h1v3h-1zM488,117h1v1h-1zM488,121h1v1h-1zM497,118h1v3h-1zM496,117h1v1h-1zM496,121h1v1h-1zM505,118h1v3h-1zM504,117h1v1h-1zM504,121h1v1h-1zM513,118h1v3h-1zM512,117h1v1h-1zM512,121h1v1h-1zM521,118h1v3h-1zM520,117h1v1h-1zM520,121h1v1h-1zM529,118h1v3h-1zM528,117h1v1h-1zM528,121h1v1h-1zM537,118h1v3h-1zM536,117h1v1h-1zM536,121h1v1h-1zM545,118h1v3h-1zM544,117h1v1h-1zM544,121h1v1h-1zM553,118h1v3h-1zM552,117h1v1h-1zM552,121h1v1h-1zM561,118h1v3h-1zM560,117h1v1h-1zM560,121h1v1h-1zM569,118h1v3h-1zM568,117h1v1h-1zM568,121h1v1h-1zM577,118h1v3h-1zM576,117h1v1h-1zM576,121h1v1h-1zM585,118h1v3h-1zM584,117h1v1h-1zM584,121h1v1h-1zM593,118h1v3h-1zM592,117h1v1h-1zM592,121h1v1h-1zM601,118h1v3h-1zM600,117h1v1h-1zM600,121h1v1h-1zM609,118h1v3h-1zM608,117h1v1h-1zM608,121h1v1h-1zM617,118h1v3h-1zM616,117h1v1h-1zM616,121h1v1h-1zM625,118h1v3h-1zM624,117h1v1h-1zM624,121h1v1h-1zM633,118h1v3h-1zM632,117h1v1h-1zM632,121h1v1h-1zM641,118h1v3h-1zM640,117h1v1h-1zM640,121h1v1h-1zM649,118h1v3h-1zM648,117h1v1h-1zM648,121h1v1h-1zM657,118h1v3h-1zM656,117h1v1h-1zM656,121h1v1h-1zM665,118h1v3h-1zM664,117h1v1h-1zM664,121h1v1h-1zM673,118h1v3h-1zM672,117h1v1h-1zM672,121h1v1h-1zM681,118h1v3h-1zM680,117h1v1h-1zM680,121h1v1h-1zM689,118h1v3h-1zM688,117h1v1h-1zM688,121h1v1h-1zM697,118h1v3h-1zM696,117h1v1h-1zM696,121h1v1h-1zM705,118h1v3h-1zM704,117h1v1h-1zM704,121h1v1h-1zM713,118h1v3h-1zM712,117h1v1h-1zM712,121h1v1h-1zM721,118h1v3h-1zM720,117h1v1h-1zM720,121h1v1h-1zM729,118h1v3h-1zM728,117h1v1h-1zM728,121h1v1h-1zM737,118h1v3h-1zM736,117h1v1h-1zM736,121h1v1h-1zM745,118h1v3h-1zM744,117h1v1h-1zM744,121h1v1h-1zM753,118h1v3h-1zM752,117h1v1h-1zM752,121h1v1h-1zM761,118h1v3h-1zM760,117h1v1h-1zM760,121h1v1h-1zM769,118h1v3h-1zM768,117h1v1h-1zM768,121h1v1h-1zM777,118h1v3h-1zM776,117h1v1h-1zM776,121h1v1h-1zM785,118h1v3h-1zM784,117h1v1h-1zM784,121h1v1h-1zM793,118h1v3h-1zM792,117h1v1h-1zM792,121h1v1h-1zM801,118h1v3h-1zM800,117h1v1h-1zM800,121h1v1h-1zM809,118h1v3h-1zM808,117h1v1h-1zM808,121h1v1h-1zM817,118h1v3h-1zM816,117h1v1h-1zM816,121h1v1h-1zM825,118h1v3h-1zM824,117h1v1h-1zM824,121h1v1h-1zM833,118h1v3h-1zM832,117h1v1h-1zM832,121h1v1h-1zM841,118h1v3h-1zM840,117h1v1h-1zM840,121h1v1h-1zM849,118h1v3h-1zM848,117h1v1h-1zM848,121h1v1h-1zM857,118h1v3h-1zM856,117h1v1h-1zM856,121h1v1h-1zM865,118h1v3h-1zM864,117h1v1h-1zM864,121h1v1h-1zM873,118h1v3h-1zM872,117h1v1h-1zM872,121h1v1h-1zM881,118h1v3h-1zM880,117h1v1h-1zM880,121h1v1h-1zM889,118h1v3h-1zM888,117h1v1h-1zM888,121h1v1h-1zM897,118h1v3h-1zM896,117h1v1h-1zM896,121h1v1h-1zM905,118h1v3h-1zM904,117h1v1h-1zM904,121h1v1h-1zM913,118h1v3h-1zM912,117h1v1h-1zM912,121h1v1h-1zM921,118h1v3h-1zM920,117h1v1h-1zM920,121h1v1h-1zM929,118h1v3h-1zM928,117h1v1h-1zM928,121h1v1h-1zM937,118h1v3h-1zM936,117h1v1h-1zM936,121h1v1h-1zM945,118h1v3h-1zM944,117h1v1h-1zM944,121h1v1h-1z" fill="#006400"/>
<path d="M159,116h1v1h-1zM159,122h1v1h-1zM167,116h1v1h-1zM167,122h1v1h-1zM175,116h1v1h-1zM175,122h1v1h-1zM183,116h1v1h-1zM183,122h1v1h-1zM191,116h1v1h-1zM191,122h1v1h-1zM199,116h1v1h-1zM199,122h1v1h-1zM207,116h1v1h-1zM207,122h1v1h-1zM215,116h1v1h-1zM215,122h1v1h-1zM223,116h1v1h-1zM223,122h1v1h-1zM231,116h1v1h-1zM231,122h1v1h-1zM239,116h1v1h-1zM239,122h1v1h-1zM247,116h1v1h-1zM247,122h1v1h-1zM255,116h1v1h-1zM255,122h1v1h-1zM263,116h1v1h-1zM263,122h1v1h-1zM271,116h1v1h-1zM271,122h1v1h-1zM279,116h1v1h-1zM279,122h1v1h-1zM287,116h1v1h-1zM287,122h1v1h-1zM295,116h1v1h-1zM295,122h1v1h-1zM303,116h1v1h-1zM303,122h1v1h-1zM311,116h1v1h-1zM311,122h1v1h-1zM319,116h1v1h-1zM319,122h1v1h-1zM327,116h1v1h-1zM327,122h1v1h-1zM335,116h1v1h-1zM335,122h1v1h-1zM343,116h1v1h-1zM343,122h1v1h-1zM351,116h1v1h-1zM351,122h1v1h-1zM359,116h1v1h-1zM359,122h1v1h-1zM367,116h1v1h-1zM367,122h1v1h-1zM375,116h1v1h-1zM375,122h1v1h-1zM383,116h1v1h-1zM383,122h1v1h-1zM391,116h1v1h-1zM391,122h1v1h-1zM399,116h1v1h-1zM399,122h1v1h-1zM407,116h1v1h-1zM407,122h1v1h-1zM415,116h1v1h-1zM415,122h1v1h-1zM423,116h1v1h-1zM423,122h1v1h-1zM431,116h1v1h-1zM431,122h1v1h-1zM439,116h1v1h-1zM439,122h1v1h-1zM447,116h1v1h-1zM447,122h1v1h-1zM455,116h1v1h-1zM455,122h1v1h-1zM463,116h1v1h-1zM463,122h1v1h-1zM471,116h1v1h-1zM471,122h1v1h-1zM479,116h1v1h-1zM479,122h1v1h-1zM487,116h1v1h-1zM487,122h1v1h-1zM495,116h1v1h-1zM495,122h1v1h-1zM503,116h1v1h-1zM503,122h1v1h-1zM511,116h1v1h-1zM511,122h1v1h-1zM519,116h1v1h-1zM519,122h1v1h-1zM527,116h1v1h-1zM527,122h1v1h-1zM535,116h1v1h-1zM535,122h1v1h-1zM543,116h1v1h-1zM543,122h1v1h-1zM551,116h1v1h-1zM551,122h1v1h-1zM559,116h1v1h-1zM559,122h1v1h-1zM567,116h1v1h-1zM567,122h1v1h-1zM575,116h1v1h-1zM575,122h1v1h-1zM583,116h1v1h-1zM583,122h1v1h-1zM591,116h1v1h-1zM591,122h1v1h-1zM599,116h1v1h-1zM599,122h1v1h-1zM607,116h1v1h-1zM607,122h1v1h-1zM615,116h1v1h-1zM615,122h1v1h-1zM623,116h1v1h-1zM623,122h1v1h-1zM631,116h1v1h-1zM631,122h1v1h-1zM639,116h1v1h-1zM639,122h1v1h-1zM647,116h1v1h-1zM647,122h1v1h-1zM655,116h1v1h-1zM655,122h1v1h-1zM663,116h1v1h-1zM663,122h1v1h-1zM671,116h1v1h-1zM671,122h1v1h-1zM679,116h1v1h-1zM679,122h1v1h-1zM687,116h1v1h-1zM687,122h1v1h-1zM695,116h1v1h-1zM695,122h1v1h-1zM703,116h1v1h-1zM703,122h1v1h-1zM711,116h1v1h-1zM711,122h1v1h-1zM719,116h1v1h-1zM719,122h1v1h-1zM727,116h1v1h-1zM727,122h1v1h-1zM735,116h1v1h-1zM735,122h1v1h-1zM743,116h1v1h-1zM743,122h1v1h-1zM751,116h1v1h-1zM751,122h1v1h-1zM759,116h1v1h-1zM759,122h1v1h-1zM767,116h1v1h-1zM767,122h1v1h-1zM775,116h1v1h-1zM775,122h1v1h-1zM783,116h1v1h-1zM783,122h1v1h-1zM791,116h1v1h-1zM791,122h1v1h-1zM799,116h1v1h-1zM799,122h1v1h-1zM807,116h1v1h-1zM807,122h1v1h-1zM815,116h1v1h-1zM815,122h1v1h-1zM823,116h1v1h-1zM823,122h1v1h-1zM831,116h1v1h-1zM831,122h1v1h-1zM839,116h1v1h-1zM839,122h1v1h-1zM847,116h1v1h-1zM847,122h1v1h-1zM855,116h1v1h-1zM855,122h1v1h-1zM863,116h1v1h-1zM863,122h1v1h-1zM871,116h1v1h-1zM871,122h1v1h-1zM879,116h1v1h-1zM879,122h1v1h-1zM887,116h1v1h-1zM887,122h1v1h-1zM895,116h1v1h-1zM895,122h1v1h-1zM903,116h1v1h-1zM903,122h1v1h-1zM911,116h1v1h-1zM911,122h1v1h-1zM919,116h1v1h-1zM919,122h1v1h-1zM927,116h1v1h-1zM927,122h1v1h-1zM935,116h1v1h-1zM935,122h1v1h-1zM943,116h1v1h-1zM943,122h1v1h-1z" fill="#006400" fill-opacity="0.45"/>
<rect x="157" y="135" width="792" height="1" fill="#006400"/>
<path d="M161,134h1v3h-1zM160,133h1v1h-1zM160,137h1v1h-1zM169,134h1v3h-1zM168,133h1v1h-1zM168,137h1v1h-1zM177,134h1v3h-1zM176,133h1v1h-1zM176,137h1v1h-1zM185,134h1v3h-1zM184,133h1v1h-1zM184,137h1v1h-1zM193,134h1v3h-1zM192,133h1v1h-1zM192,137h1v1h-1zM201,134h1v3h-1zM200,133h1v1h-1zM200,137h1v1h-1zM209,134h1v3h-1zM208,133h1v1h-1zM208,137h1v1h-1zM217,134h1v3h-1zM216,133h1v1h-1zM216,137h1v1h-1zM225,134h1v3h-1zM224,133h1v1h-1zM224,137h1v1h-1zM233,134h1v3h-1zM232,133h1v1h-1zM232,137h1v1h-1zM241,134h1v3h-1zM240,133h1v1h-1zM240,137h1v1h-1zM249,134h1v3h-1zM248,133h1v1h-1zM248,137h1v1h-1zM257,134h1v3h-1zM256,133h1v1h-1zM256,137h1v1h-1zM265,134h1v3h-1zM264,133h1v1h-1zM264,137h1v1h-1zM273,134h1v3h-1zM272,133h1v1h-1zM272,137h1v1h-1zM281,134h1v3h-1zM280,133h1v1h-1zM280,137h1v1h-1zM289,134h1v3h-1zM288,133h1v1h-1zM288,137h1v1h-1zM297,134h1v3h-1zM296,133h1v1h-1zM296,137h1v1h-1zM305,134h1v3h-1zM304,133h1v1h-1zM304,137h1v1h-1zM313,134h1v3h-1zM312,133h1v1h-1zM312,137h1v1h-1zM321,134h1v3h-1zM320,133h1v1h-1zM320,137h1v1h-1zM329,134h1v3h-1zM328,133h1v1h-1zM328,137h1v1h-1zM337,134h1v3h-1zM336,133h1v1h-1zM336,137h1v1h-1zM345,134h1v3h-1zM344,133h1v1h-1zM344,137h1v1h-1zM353,134h1v3h-1zM352,133h1v1h-1zM352,137h1v1h-1zM361,134h1v3h-1zM360,133h1v1h-1zM360,137h1v1h-1zM369,134h1v3h-1zM368,133h1v1h-1zM368,137h1v1h-1zM377,134h1v3h-1zM376,133h1v1h-1zM376,137h1v1h-1zM385,134h1v3h-1zM384,133h1v1h-1zM384,137h1v1h-1zM393,134h1v3h-1zM392,133h1v1h-1zM392,137h1v1h-1zM401,134h1v3h-1zM400,133h1v1h-1zM400,137h1v1h-1zM409,134h1v3h-1zM408,133h1v1h-1zM408,137h1v1h-1zM417,134h1v3h-1zM416,133h1v1h-1zM416,137h1v1h-1zM425,134h1v3h-1zM424,133h1v1h-1zM424,137h1v1h-1zM433,134h1v3h-1zM432,133h1v1h-1zM432,137h1v1h-1zM441,134h1v3h-1zM440,133h1v1h-1zM440,137h1v1h-1zM449,134h1v3h-1zM448,133h1v1h-1zM448,137h1v1h-1zM457,134h1v3h-1zM456,133h1v1h-1zM456,137h1v1h-1zM465,134h1v3h-1zM464,133h1v1h-1zM464,137h1v1h-1zM473,134h1v3h-1zM472,133h1v1h-1zM472,137h1v1h-1zM481,134h1v3h-1zM480,133h1v1h-1zM480,137h1v1h-1zM489,134h1v3h-1zM488,133h1v1h-1zM488,137h1v1h-1zM497,134h1v3h-1zM496,133h1v1h-1zM496,137h1v1h-1zM505,134h1v3h-1zM504,133h1v1h-1zM504,137h1v1h-1zM513,134h1v3h-1zM512,133h1v1h-1zM512,137h1v1h-1zM521,134h1v3h-1zM520,133h1v1h-1zM520,137h1v1h-1zM529,134h1v3h-1zM528,133h1v1h-1zM528,137h1v1h-1zM537,134h1v3h-1zM536,133h1v1h-1zM536,137h1v1h-1zM545,134h1v3h-1zM544,133h1v1h-1zM544,137h1v1h-1zM553,134h1v3h-1zM552,133h1v1h-1zM552,137h1v1h-1zM561,134h1v3h-1zM560,133h1v1h-1zM560,137h1v1h-1zM569,134h1v3h-1zM568,133h1v1h-1zM568,137h1v1h-1zM577,134h1v3h-1zM576,133h1v1h-1zM576,137h1v1h-1zM585,134h1v3h-1zM584,133h1v1h-1zM584,137h1v1h-1zM593,134h1v3h-1zM592,133h1v1h-1zM592,137h1v1h-1zM601,134h1v3h-1zM600,133h1v1h-1zM600,137h1v1h-1zM609,134h1v3h-1zM608,133h1v1h-1zM608,137h1v1h-1zM617,134h1v3h-1zM616,133h1v1h-1zM616,137h1v1h-1zM625,134h1v3h-1zM624,133h1v1h-1zM624,137h1v1h-1zM633,134h1v3h-1zM632,133h1v1h-1zM632,137h1v1h-1zM641,134h1v3h-1zM640,133h1v1h-1zM640,137h1v1h-1zM649,134h1v3h-1zM648,133h1v1h-1zM648,137h1v1h-1zM657,134h1v3h-1zM656,133h1v1h-1zM656,137h1v1h-1zM665,134h1v3h-1zM664,133h1v1h-1zM664,137h1v1h-1zM673,134h1v3h-1zM672,133h1v1h-1zM672,137h1v1h-1zM681,134h1v3h-1zM680,133h1v1h-1zM680,137h1v1h-1zM689,134h1v3h-1zM688,133h1v1h-1zM688,137h1v1h-1zM697,134h1v3h-1zM696,133h1v1h-1zM696,137h1v1h-1zM705,134h1v3h-1zM704,133h1v1h-1zM704,137h1v1h-1zM713,134h1v3h-1zM712,133h1v1h-1zM712,137h1v1h-1zM721,134h1v3h-1zM720,133h1v1h-1zM720,137h1v1h-1zM729,134h1v3h-1zM728,133h1v1h-1zM728,137h1v1h-1zM737,134h1v3h-1zM736,133h1v1h-1zM736,137h1v1h-1zM745,134h1v3h-1zM744,133h1v1h-1zM744,137h1v1h-1zM753,134h1v3h-1zM752,133h1v1h-1zM752,137h1v1h-1zM761,134h1v3h-1zM760,133h1v1h-1zM760,137h1v1h-1zM769,134h1v3h-1zM768,133h1v1h-1zM768,137h1v1h-1zM777,134h1v3h-1zM776,133h1v1h-1zM776,137h1v1h-1zM785,134h1v3h-1zM784,133h1v1h-1zM784,137h1v1h-1zM793,134h1v3h-1zM792,133h1v1h-1zM792,137h1v1h-1zM801,134h1v3h-1zM800,133h1v1h-1zM800,137h1v1h-1zM809,134h1v3h-1zM808,133h1v1h-1zM808,137h1v1h-1zM817,134h1v3h-1zM816,133h1v1h-1zM816,137h1v1h-1zM825,134h1v3h-1zM824,133h1v1h-1zM824,137h1v1h-1zM833,134h1v3h-1zM832,133h1v1h-1zM832,137h1v1h-1zM841,134h1v3h-1zM840,133h1v1h-1zM840,137h1v1h-1zM849,134h1v3h-1zM848,133h1v1h-1zM848,137h1v1h-1zM857,134h1v3h-1zM856,133h1v1h-1zM856,137h1v1h-1zM865,134h1v3h-1zM864,133h1v1h-1zM864,137h1v1h-1zM873,134h1v3h-1zM872,133h1v1h-1zM872,137h1v1h-1zM881,134h1v3h-1zM880,133h1v1h-1zM880,137h1v1h-1zM889,134h1v3h-1zM888,133h1v1h-1zM888,137h1v1h-1zM897,134h1v3h-1zM896,133h1v1h-1zM896,137h1v1h-1zM905,134h1v3h-1zM904,133h1v1h-1zM904,137h1v1h-1zM913,134h1v3h-1zM912,133h1v1h-1zM912,137h1v1h-1zM921,134h1v3h-1zM920,133h1v1h-1zM920,137h1v1h-1zM929,134h1v3h-1zM928,133h1v1h-1zM928,137h1v1h-1zM937,134h1v3h-1zM936,133h1v1h-1zM936,137h1v1h-1zM945,134h1v3h-1zM944,133h1v1h-1zM944,137h1v1h-1z" fill="#006400"/>
<path d="M159,132h1v1h-1zM159,138h1v1h-1zM167,132h1v1h-1zM167,138h1v1h-1zM175,132h1v1h-1zM175,138h1v1h-1zM183,132h1v1h-1zM183,138h1v1h-1zM191,132h1v1h-1zM191,138h1v1h-1zM199,132h1v1h-1zM199,138h1v1h-1zM207,132h1v1h-1zM207,138h1v1h-1zM215,132h1v1h-1zM215,138h1v1h-1zM223,132h1v1h-1zM223,138h1v1h-1zM231,132h1v1h-1zM231,138h1v1h-1zM239,132h1v1h-1zM239,138h1v1h-1zM247,132h1v1h-1zM247,138h1v1h-1zM255,132h1v1h-1zM255,138h1v1h-1zM263,132h1v1h-1zM263,138h1v1h-1zM271,132h1v1h-1zM271,138h1v1h-1zM279,132h1v1h-1zM279,138h1v1h-1zM287,132h1v1h-1zM287,138h1v1h-1zM295,132h1v1h-1zM295,138h1v1h-1zM303,132h1v1h-1zM303,138h1v1h-1zM311,132h1v1h-1zM311,138h1v1h-1zM319,132h1v1h-1zM319,138h1v1h-1zM327,132h1v1h-1zM327,138h1v1h-1zM335,132h1v1h-1zM335,138h1v1h-1zM343,132h1v1h-1zM343,138h1v1h-1zM351,132h1v1h-1zM351,138h1v1h-1zM359,132h1v1h-1zM359,138h1v1h-1zM367,132h1v1h-1zM367,138h1v1h-1zM375,132h1v1h-1zM375,138h1v1h-1zM383,132h1v1h-1zM383,138h1v1h-1zM391,132h1v1h-1zM391,138h1v1h-1zM399,132h1v1h-1zM399,138h1v1h-1zM407,132h1v1h-1zM407,138h1v1h-1zM415,132h1v1h-1zM415,138h1v1h-1zM423,132h1v1h-1zM423,138h1v1h-1zM431,132h1v1h-1zM431,138h1v1h-1zM439,132h1v1h-1zM439,138h1v1h-1zM447,132h1v1h-1zM447,138h1v1h-1zM455,132h1v1h-1zM455,138h1v1h-1zM463,132h1v1h-1zM463,138h1v1h-1zM471,132h1v1h-1zM471,138h1v1h-1zM479,132h1v1h-1zM479,138h1v1h-1zM487,132h1v1h-1zM487,138h1v1h-1zM495,132h1v1h-1zM495,138h1v1h-1zM503,132h1v1h-1zM503,138h1v1h-1zM511,132h1v1h-1zM511,138h1v1h-1zM519,132h1v1h-1zM519,138h1v1h-1zM527,132h1v1h-1zM527,138h1v1h-1zM535,132h1v1h-1zM535,138h1v1h-1zM543,132h1v1h-1zM543,138h1v1h-1zM551,132h1v1h-1zM551,138h1v1h-1zM559,132h1v1h-1zM559,138h1v1h-1zM567,132h1v1h-1zM567,138h1v1h-1zM575,132h1v1h-1zM575,138h1v1h-1zM583,132h1v1h-1zM583,138h1v1h-1zM591,132h1v1h-1zM591,138h1v1h-1zM599,132h1v1h-1zM599,138h1v1h-1zM607,132h1v1h-1zM607,138h1v1h-1zM615,132h1v1h-1zM615,138h1v1h-1zM623,132h1v1h-1zM623,138h1v1h-1zM631,132h1v1h-1zM631,138h1v1h-1zM639,132h1v1h-1zM639,138h1v1h-1zM647,132h1v1h-1zM647,138h1v1h-1zM655,132h1v1h-1zM655,138h1v1h-1zM663,132h1v1h-1zM663,138h1v1h-1zM671,132h1v1h-1zM671,138h1v1h-1zM679,132h1v1h-1zM679,138h1v1h-1zM687,132h1v1h-1zM687,138h1v1h-1zM695,132h1v1h-1zM695,138h1v1h-1zM703,132h1v1h-1zM703,138h1v1h-1zM711,132h1v1h-1zM711,138h1v1h-1zM719,132h1v1h-1zM719,138h1v1h-1zM727,132h1v1h-1zM727,138h1v1h-1zM735,132h1v1h-1zM735,138h1v1h-1zM743,132h1v1h-1zM743,138h1v1h-1zM751,132h1v1h-1zM751,138h1v1h-1zM759,132h1v1h-1zM759,138h1v1h-1zM767,132h1v1h-1zM767,138h1v1h-1zM775,132h1v1h-1zM775,138h1v1h-1zM783,132h1v1h-1zM783,138h1v1h-1zM791,132h1v1h-1zM791,138h1v1h-1zM799,132h1v1h-1zM799,138h1v1h-1zM807,132h1v1h-1zM807,138h1v1h-1zM815,132h1v1h-1zM815,138h1v1h-1zM823,132h1v1h-1zM823,138h1v1h-1zM831,132h1v1h-1zM831,138h1v1h-1zM839,132h1v1h-1zM839,138h1v1h-1zM847,132h1v1h-1zM847,138h1v1h-1zM855,132h1v1h-1zM855,138h1v1h-1zM863,132h1v1h-1zM863,138h1v1h-1zM871,132h1v1h-1zM871,138h1v1h-1zM879,132h1v1h-1zM879,138h1v1h-1zM887,132h1v1h-1zM887,138h1v1h-1zM895,132h1v1h-1zM895,138h1v1h-1zM903,132h1v1h-1zM903,138h1v1h-1zM911,132h1v1h-1zM911,138h1v1h-1zM919,132h1v1h-1zM919,138h1v1h-1zM927,132h1v1h-1zM927,138h1v1h-1zM935,132h1v1h-1zM935,138h1v1h-1zM943,132h1v1h-1zM943,138h1v1h-1z" fill="#006400" fill-opacity="0.45"/>
<rect x="156.5" y="308.5" width="377" height="7" fill="#fff" stroke="#f2f2f2" stroke-width="1"/>
<rect x="156" y="315" width="378" height="1" fill="#e8e4e6"/>
<rect x="177" y="312" width="5" height="3" fill="#800080"/>
<rect x="184" y="313" width="5" height="2" fill="#e8643c"/>
<rect x="191" y="312" width="5" height="3" fill="#ff0000"/>
<rect x="212" y="314" width="5" height="1" fill="#e6e600"/>
<rect x="219" y="314" width="5" height="1" fill="#e6e600"/>
<rect x="226" y="314" width="5" height="1" fill="#e6e600"/>
<rect x="233" y="314" width="5" height="1" fill="#e6e600"/>
<rect x="240" y="312" width="5" height="3" fill="#e6e600"/>
<rect x="247" y="313" width="5" height="2" fill="#e6e600"/>
<rect x="268" y="314" width="5" height="1" fill="#e6e600"/>
<rect x="275" y="314" width="5" height="1" fill="#e6e600"/>
<rect x="296" y="314" width="5" height="1" fill="#00c8d2"/>
<rect x="317" y="313" width="5" height="2" fill="#f2d4cc"/>
<rect x="324" y="314" width="5" height="1" fill="#f4cbbd"/>
<rect x="366" y="313" width="5" height="2" fill="#f2d0c8"/>
<rect x="422" y="314" width="5" height="1" fill="#7864e6"/>
<rect x="464" y="310" width="5" height="5" fill="#3c50c8"/>
<rect x="471" y="308" width="5" height="7" fill="#1e90ff"/>
<rect x="499" y="310" width="5" height="5" fill="#a0a0a0"/>
<rect x="506" y="313" width="5" height="2" fill="#00823c"/>
<rect x="513" y="314" width="5" height="1" fill="#f4cdbd"/>
<rect x="520" y="314" width="5" height="1" fill="#f4cdbd"/>
<rect x="156" y="316" width="793" height="2" fill="#006400"/>
<rect x="156" y="361" width="793" height="2" fill="#70ecca"/>
<rect x="156" y="363" width="793" height="1" fill="#78709e"/>
<rect x="156" y="364" width="793" height="1" fill="#384a52"/>
<path d="M234.48 403.4Q227.21 403.4 223.17 403.69Q219.13 403.98 219.13 404.49Q219.13 404.99 223.34 405.29Q227.55 405.6 234.73 405.6Q243.92 405.6 248.55 405.03L253.4 405.18Q250.7 405.53 245.8 405.72Q240.91 405.9 234.45 405.9Q227.83 405.9 223 405.73Q218.16 405.56 215.63 405.24Q213.1 404.92 213.1 404.49Q213.1 403.84 218.76 403.47Q224.41 403.1 234.42 403.1Q241.41 403.1 246.1 403.27Q250.79 403.44 253 403.77L247.37 403.89Q245.85 403.65 242.48 403.53Q239.11 403.4 234.48 403.4Z" fill="#a0a000" stroke="#a0a000" stroke-width="0.12"/>
<path d="M393.68 397.08Q386.38 397.08 382.32 398.11Q378.26 399.15 378.26 400.96Q378.26 402.74 382.49 403.83Q386.72 404.92 393.93 404.92Q403.18 404.92 407.83 402.9L412.7 403.43Q409.98 404.69 405.07 405.34Q400.15 406 393.65 406Q387 406 382.15 405.39Q377.29 404.78 374.74 403.64Q372.2 402.51 372.2 400.96Q372.2 398.63 377.88 397.32Q383.57 396 393.62 396Q400.65 396 405.36 396.61Q410.08 397.21 412.29 398.41L406.64 398.82Q405.11 397.97 401.72 397.52Q398.34 397.08 393.68 397.08Z" fill="#a0a000"/>
<path d="M552.75 397.08Q545.35 397.08 541.24 398.11Q537.13 399.15 537.13 400.96Q537.13 402.74 541.42 403.83Q545.7 404.92 553 404.92Q562.36 404.92 567.07 402.9L572 403.43Q569.25 404.69 564.27 405.34Q559.29 406 552.72 406Q545.98 406 541.07 405.39Q536.15 404.78 533.58 403.64Q531 402.51 531 400.96Q531 398.63 536.75 397.32Q542.51 396 552.69 396Q559.8 396 564.57 396.61Q569.34 397.21 571.59 398.41L565.87 398.82Q564.32 397.97 560.89 397.52Q557.46 397.08 552.75 397.08Z" fill="#a0a000"/>
<path d="M687.2,406.8L704.1,387.0L711.9,387.0L728.1,406.8L721.1,406.8L716.5,401.0L698.6,401.0L694.0,406.8ZM700.2,398.5L714.9,398.5L707.5,389.8Z" fill="#ff0000" fill-rule="evenodd"/>
<path d="M846.2,406.8L863.1,387.0L870.9,387.0L887.1,406.8L880.1,406.8L875.5,401.0L857.6,401.0L853.0,406.8ZM859.2,398.5L873.9,398.5L866.5,389.8Z" fill="#ff0000" fill-rule="evenodd"/>
<text transform="translate(233.80,474) scale(1,1.07)" font-size="13" fill="#0c0c78" text-anchor="middle">C</text>
<text transform="translate(392.30,474) scale(1,1.07)" font-size="13" fill="#0c0c78" text-anchor="middle">C</text>
<text transform="translate(550.90,474) scale(1,1.07)" font-size="13" fill="#0c0c78" text-anchor="middle">C</text>
<text transform="translate(708.30,474) scale(1,1.07)" font-size="13" fill="#0c0c78" text-anchor="middle">A</text>
<text transform="translate(867.20,474) scale(1,1.07)" font-size="13" fill="#0c0c78" text-anchor="middle">A</text>
<text transform="translate(233.80,489) scale(1,1.07)" font-size="13" fill="#0c0c78" text-anchor="middle">C</text>
<text transform="translate(392.30,489) scale(1,1.07)" font-size="13" fill="#0c0c78" text-anchor="middle">C</text>
<text transform="translate(550.90,489) scale(1,1.07)" font-size="13" fill="#0c0c78" text-anchor="middle">C</text>
<text transform="translate(708.30,489) scale(1,1.07)" font-size="13" fill="#0c0c78" text-anchor="middle">A</text>
<text transform="translate(867.20,489) scale(1,1.07)" font-size="13" fill="#0c0c78" text-anchor="middle">A</text>
<text transform="translate(233.80,504) scale(1,1.07)" font-size="13" fill="#0c0c78" text-anchor="middle">C</text>
<text transform="translate(392.30,504) scale(1,1.07)" font-size="13" fill="#0c0c78" text-anchor="middle">C</text>
<text transform="translate(550.90,504) scale(1,1.07)" font-size="13" fill="#0c0c78" text-anchor="middle">C</text>
<text transform="translate(708.30,504) scale(1,1.07)" font-size="13" fill="#0c0c78" text-anchor="middle">A</text>
<text transform="translate(867.20,504) scale(1,1.07)" font-size="13" fill="#0c0c78" text-anchor="middle">A</text>
<text transform="translate(233.80,519) scale(1,1.07)" font-size="13" fill="#0c0c78" text-anchor="middle">C</text>
<text transform="translate(392.30,519) scale(1,1.07)" font-size="13" fill="#0c0c78" text-anchor="middle">C</text>
<text transform="translate(550.90,519) scale(1,1.07)" font-size="13" fill="#0c0c78" text-anchor="middle">C</text>
<text transform="translate(708.30,519) scale(1,1.07)" font-size="13" fill="#0c0c78" text-anchor="middle">A</text>
<text transform="translate(867.20,519) scale(1,1.07)" font-size="13" fill="#0c0c78" text-anchor="middle">A</text>
<text transform="translate(233.80,534) scale(1,1.07)" font-size="13" fill="#0c0c78" text-anchor="middle">C</text>
<text transform="translate(392.30,534) scale(1,1.07)" font-size="13" fill="#0c0c78" text-anchor="middle">C</text>
<text transform="translate(550.90,534) scale(1,1.07)" font-size="13" fill="#0c0c78" text-anchor="middle">C</text>
<text transform="translate(708.30,534) scale(1,1.07)" font-size="13" fill="#0c0c78" text-anchor="middle">A</text>
<text transform="translate(867.20,534) scale(1,1.07)" font-size="13" fill="#0c0c78" text-anchor="middle">A</text></svg>
</body></html>
